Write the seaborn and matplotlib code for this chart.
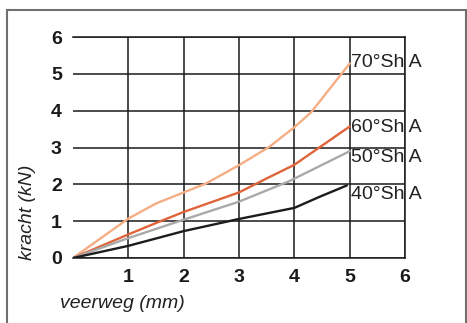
import matplotlib
matplotlib.use('Agg')
import matplotlib.pyplot as plt
import seaborn as sns
import pandas as pd
from matplotlib import font_manager
from matplotlib.patches import Rectangle
from matplotlib.ticker import FixedLocator

# ---- data ----
x70 = [0, 1.0, 1.5, 2.0, 2.4, 3.0, 3.55, 4.0, 4.3, 4.8, 5.0]
y70 = [0, 1.07, 1.48, 1.78, 2.02, 2.52, 3.02, 3.55, 3.95, 4.9, 5.28]
x60 = [0, 1.0, 1.5, 2.0, 3.0, 3.5, 4.0, 4.5, 5.0]
y60 = [0, 0.64, 0.95, 1.25, 1.78, 2.16, 2.53, 3.05, 3.57]
x50 = [0, 1.0, 2.0, 3.0, 3.9, 5.0]
y50 = [0, 0.54, 1.04, 1.53, 2.08, 2.9]
x40 = [0, 1.0, 2.0, 3.0, 4.0, 4.47, 4.95]
y40 = [0, 0.33, 0.73, 1.06, 1.36, 1.67, 1.97]
series = ["70°Sh A", "60°Sh A", "50°Sh A", "40°Sh A"]
label_y = [5.3, 3.53, 2.72, 1.72]
colors = ["#F5AE84", "#E0643A", "#A9A9A9", "#1C1C1C"]
xticks = [1, 2, 3, 4, 5, 6]
yticks = [0, 1, 2, 3, 4, 5, 6]

frames = []
for name, xs, ys in zip(series, [x70, x60, x50, x40], [y70, y60, y50, y40]):
    frames.append(pd.DataFrame({"x": xs, "y": ys, "series": name}))
df = pd.concat(frames, ignore_index=True)

sns.set_style("white")
names = {f.name for f in font_manager.fontManager.ttflist}
narrow = "Liberation Sans Narrow" in names
base = "Liberation Sans"
lab_font = "Liberation Sans Narrow" if narrow else base
lab_scale = 1.2 if narrow else 1.0
plt.rcParams['font.family'] = [base, 'DejaVu Sans']

W, H = 467, 323
fig = plt.figure(figsize=(W / 100, H / 100), dpi=100)
ax = fig.add_axes([73 / W, 1 - 258 / H, (405 - 73) / W, (258 - 37) / H])

sns.lineplot(data=df, x="x", y="y", hue="series", palette=dict(zip(series, colors)),
             sort=False, estimator=None, legend=False, linewidth=1.7, ax=ax, zorder=3)

gc = "#1a1a1a"
ax.set_xlim(0, 6)
ax.set_ylim(0, 6)
ax.set_xticks(xticks)
ax.set_yticks(yticks)
ax.set_xticklabels([str(t) for t in xticks], fontweight="bold", fontsize=14)
ax.set_yticklabels([str(t) for t in yticks], fontweight="bold", fontsize=14)
ax.xaxis.set_minor_locator(FixedLocator([1.5, 2.5, 3.5, 4.5, 5.5]))
ax.yaxis.set_minor_locator(FixedLocator([0.5, 1.5, 2.5, 3.5, 4.5, 5.5]))
ax.tick_params(which="major", length=0, pad=8, colors=gc)
ax.tick_params(which="minor", direction="in", length=5, width=1.1, color=gc)
ax.grid(True, which="major", color=gc, linewidth=1.1)
ax.spines["left"].set_visible(False)
for s in ["top", "right", "bottom"]:
    ax.spines[s].set_visible(True)
    ax.spines[s].set_color(gc)
    ax.spines[s].set_linewidth(1.1)
ax.set_xlabel("")
ax.set_ylabel("")

for name, yy in zip(series, label_y):
    ax.text(5.03, yy, name, ha="left", va="center", fontsize=14 * lab_scale,
            family=lab_font, color="#222222", clip_on=False, zorder=4)

fig.text(60 / W, 1 - 303 / H, "veerweg (mm)", ha="left", va="center",
         fontsize=14 * lab_scale, family=lab_font, style="italic", color="#222222")
fig.text(27 / W, 1 - 260 / H, "kracht (kN)", ha="center", va="bottom", rotation=90,
         fontsize=14 * lab_scale, family=lab_font, style="italic", color="#222222")

fig.patches.append(Rectangle((7 / W, -0.1), (466 - 7) / W, 1.1 - 10 / H,
                             transform=fig.transFigure, fill=False,
                             edgecolor="#707070", linewidth=1.5))

fig.savefig("out.png", dpi=100)
